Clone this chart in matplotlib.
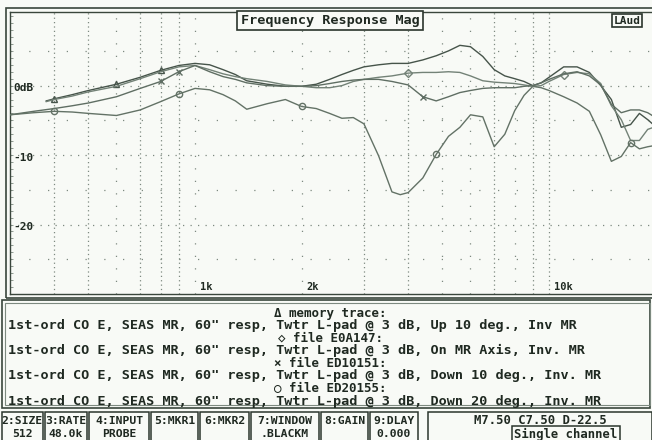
import numpy as np
import matplotlib.pyplot as plt
from matplotlib.patches import Rectangle
from matplotlib.transforms import blended_transform_factory

W, H = 652, 440

# Frequency nodes (Hz) for the traces
freq_full = [300, 350, 400, 450, 500, 600, 700, 800, 900, 1000,
             1100, 1200, 1300, 1400, 1600, 1800, 2000, 2200, 2400, 2600, 2800,
             3000, 3300, 3600, 4000, 4400, 4800, 5200, 5600, 6000,
             6500, 7000, 7500, 8000, 8500, 9000, 9500,
             10000, 11000, 12000, 13000, 14000, 15000, 16000, 17000, 18000, 19000, 20000]
freq_mem = [380] + freq_full[2:]
freq_d20 = freq_full[:24] + [3800] + freq_full[24:]

# Magnitudes (dB), normalised near 9 kHz
db_up10 = [-2.2, -1.9, -1.3, -0.7, 0.2, 1.2, 2.2, 2.9, 3.2,
           3.0, 2.3, 1.6, 0.7,
           0.2, -0.1, -0.1, 0.2, 0.9, 1.6, 2.2,
           2.7, 3.0, 3.2, 3.2, 3.7, 4.3, 5.0, 5.8, 5.6,
           4.2, 2.3, 1.4, 1.0, 0.6, 0.0, 0.4,
           1.2, 2.7, 2.7, 1.9, 0.0, -2.0, -6.0, -5.6, -4.0, -4.9, -5.9]
db_on_axis = [-2.3, -2.0, -1.5, -0.9, -0.1, 1.0, 2.0, 2.7, 2.9,
              2.3, 1.7, 1.3, 1.0,
              0.6, 0.1, -0.1, -0.3, -0.3, 0.0, 0.6,
              0.9, 1.2, 1.4, 1.8, 1.9, 1.9, 2.0, 1.9, 1.4,
              0.7, 0.5, 0.4, 0.3, 0.1, -0.1, 0.0,
              0.6, 1.6, 1.9, 1.7, 0.3, -2.9, -4.9, -7.9, -7.9, -6.3, -5.9]
db_down10 = [-4.2, -3.7, -3.3, -2.9, -2.5, -1.6, -0.4, 0.6, 2.0, 2.9,
             2.0, 1.3, 0.9, 0.4,
             0.0, -0.1, -0.1, 0.0, 0.3, 0.6, 0.8,
             0.9, 0.9, 0.6, 0.1, -1.6, -2.2, -1.6, -1.0, -0.7,
             -0.4, -0.3, -0.3, -0.3, -0.1, 0.0, 0.4,
             0.9, 1.7, 2.0, 1.4, 0.1, -2.7, -3.9, -3.5, -3.5, -3.9, -4.6]
db_down20 = [-4.2, -3.9, -3.7, -3.8, -4.0, -4.3, -3.5, -2.3, -1.2, -0.4,
             -0.6, -1.3, -2.2, -3.4,
             -2.6, -2.0, -3.0, -3.3, -4.0, -4.7, -4.6,
             -5.5, -10.1, -15.3, -15.7, -15.4, -13.3, -9.9, -7.3, -6.0, -4.2,
             -4.5, -8.8, -7.0, -3.6, -1.4, -0.1, -0.3,
             -0.7, -1.6, -2.5, -3.7, -7.1, -10.9, -10.2, -8.2, -9.1, -8.8, -8.6]

# Marker positions along each trace (Hz, picked from the nodes)
marks_up10 = [400, 600, 800]
marks_on_axis = [4000, 11000]
marks_down10 = [800, 900, 4400]
marks_down20 = [400, 900, 2000, 4800, 17000]

legend_lines = [
    "\u0394 memory trace:",
    "1st-ord CO E, SEAS MR, 60\" resp, Twtr L-pad @ 3 dB, Up 10 deg., Inv MR",
    "\u25c7 file E0A147:",
    "1st-ord CO E, SEAS MR, 60\" resp, Twtr L-pad @ 3 dB, On MR Axis, Inv. MR",
    "\u00d7 file ED10151:",
    "1st-ord CO E, SEAS MR, 60\" resp, Twtr L-pad @ 3 dB, Down 10 deg., Inv. MR",
    "\u25cb file ED20155:",
    "1st-ord CO E, SEAS MR, 60\" resp, Twtr L-pad @ 3 dB, Down 20 deg., Inv. MR",
]
key_labels = ["2:SIZE", "3:RATE", "4:INPUT", "5:MKR1", "6:MKR2", "7:WINDOW", "8:GAIN", "9:DLAY"]
key_values = ["512", "48.0k", "PROBE", "", "", ".BLACKM", "", "0.000"]
status_text = "M7.50 C7.50 D-22.5"
mode_text = "Single channel"

grid_dense = [400, 500, 700, 800, 900, 3000, 4000, 7000, 9000, 10000]
grid_sparse = [600, 1000, 2000, 5000, 6000, 8000]

ink = '#1f2921'
grid_col = '#7d8a80'
mono = ['DejaVu Sans Mono', 'DejaVu Sans']


def fx(x):
    return x / W


def fy(y):
    return 1 - y / H


fig = plt.figure(figsize=(W / 100, H / 100), dpi=100)
fig.patch.set_facecolor('#f8faf6')

ax = fig.add_axes([fx(9.9), fy(294), (655.6 - 9.9) / W, (294 - 12) / H])
ax.set_xscale('log')
ax.set_xlim(300, 20000)
ax.set_ylim(-30, 10.6)
ax.set_facecolor('none')
ax.tick_params(which='both', length=0, labelbottom=False, labelleft=False)
ax.set_yticks(np.arange(-30, 11, 1), minor=True)
ax.tick_params(axis='y', which='minor', direction='in', length=2, left=True, color=grid_col)
ax.set_yticks([])
for s in ax.spines.values():
    s.set_color('#3a463c')
    s.set_linewidth(1.0)

for f in grid_dense:
    ax.axvline(f, color=grid_col, lw=0.9, ls=(0, (1, 2.5)), zorder=1)
for f in grid_sparse:
    ax.axvline(f, color=grid_col, lw=0.9, ls=(0, (1, 9)), zorder=1)
for lvl in [0, -10, -20]:
    ax.axhline(lvl, color=grid_col, lw=0.9, ls=(0, (1, 5)), zorder=1)
for lvl in [5, -5, -15, -25]:
    ax.axhline(lvl, color=grid_col, lw=0.9, ls=(0, (1, 14)), zorder=1)

traces = [
    (freq_mem, db_up10, marks_up10, '^', '#46544a'),
    (freq_mem, db_on_axis, marks_on_axis, 'D', '#738277'),
    (freq_full, db_down10, marks_down10, 'x', '#5f6e63'),
    (freq_d20, db_down20, marks_down20, 'o', '#637266'),
]
for fr, db, marks, mk, col in traces:
    ax.plot(fr, db, color=col, lw=1.0, marker=mk, ms=4.5, mfc='none', mew=1.0,
            markevery=[fr.index(m) for m in marks], zorder=3)

# level labels inside the frame
ty = blended_transform_factory(ax.transAxes, ax.transData)
for lvl, lab in [(0, '0dB'), (-10, '-10'), (-20, '-20')]:
    ax.text(0.005, lvl - 0.4, lab, transform=ty, ha='left', va='center',
            fontsize=8, fontweight='bold', family=mono, color=ink)

tx = blended_transform_factory(ax.transData, ax.transAxes)
for f, lab in [(1000, '1k'), (2000, '2k'), (10000, '10k')]:
    ax.text(f * 1.035, 0.025, lab, transform=tx, ha='left', va='center',
            fontsize=7.5, fontweight='bold', family=mono, color=ink)

# double outer frame
fig.patches.append(Rectangle((fx(6), fy(297.5)), (662 - 6) / W, (297.5 - 8) / H,
                             transform=fig.transFigure, fill=False, ec='#3a463c', lw=1.2))

fig.text(fx(330), fy(20.5), "Frequency Response Mag", ha='center', va='center',
         fontsize=9.7, fontweight='bold', family=mono, color=ink,
         bbox=dict(boxstyle='square,pad=0.25', fc='#f8faf6', ec='#2a352c', lw=1.2))
fig.text(fx(627), fy(20.5), "LAud", ha='center', va='center',
         fontsize=8, fontweight='bold', family=mono, color=ink,
         bbox=dict(boxstyle='square,pad=0.15', fc='#f8faf6', ec='#2a352c', lw=1.2))

# legend panel
fig.patches.append(Rectangle((fx(2), fy(408)), (650 - 2) / W, (408 - 300) / H,
                             transform=fig.transFigure, fill=False, ec='#3a463c', lw=1.2))
fig.patches.append(Rectangle((fx(5), fy(405)), (650 - 5) / W, (405 - 303) / H,
                             transform=fig.transFigure, fill=False, ec='#7d8a80', lw=0.8))
for i, line in enumerate(legend_lines):
    y = 313 + i * 12.6
    if i % 2 == 0:
        fig.text(fx(330), fy(y), line, ha='center', va='center', fontsize=9.0,
                 fontweight='bold', family=mono, color=ink)
    else:
        fig.text(fx(8), fy(y), line, ha='left', va='center', fontsize=9.7,
                 fontweight='bold', family=mono, color=ink)

# function key strip
key_edges = [1, 44, 88, 150, 199, 250, 320, 369, 419]
for i, (lab, val) in enumerate(zip(key_labels, key_values)):
    x0, x1 = key_edges[i] + 1, key_edges[i + 1] - 1
    fig.patches.append(Rectangle((fx(x0), fy(442)), (x1 - x0) / W, (442 - 412) / H,
                                 transform=fig.transFigure, fill=False, ec='#2a352c', lw=1.1))
    xc = (x0 + x1) / 2
    fig.text(fx(xc), fy(420.5), lab, ha='center', va='center', fontsize=8.2,
             fontweight='bold', family=mono, color=ink)
    fig.text(fx(xc), fy(434), val, ha='center', va='center', fontsize=8.2,
             fontweight='bold', family=mono, color=ink)

fig.patches.append(Rectangle((fx(428), fy(442)), (652 - 428) / W, (442 - 412) / H,
                             transform=fig.transFigure, fill=False, ec='#2a352c', lw=1.1))
fig.text(fx(540), fy(420.5), status_text, ha='center', va='center', fontsize=8.8,
         fontweight='bold', family=mono, color=ink)
fig.text(fx(566), fy(434.5), mode_text, ha='center', va='center', fontsize=8.8,
         fontweight='bold', family=mono, color=ink,
         bbox=dict(boxstyle='square,pad=0.2', fc='#f8faf6', ec='#2a352c', lw=1.1))

fig.savefig('out.png', dpi=100, facecolor=fig.get_facecolor())
